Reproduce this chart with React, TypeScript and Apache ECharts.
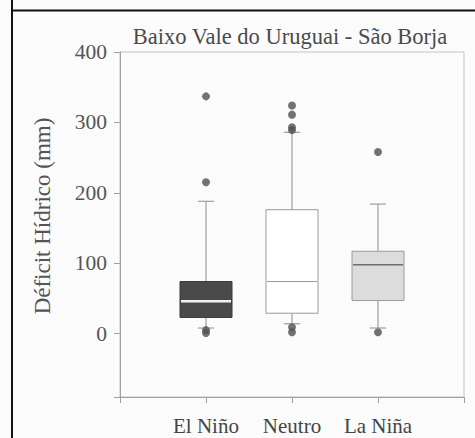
import React, { useEffect, useRef } from "react";
import * as echarts from "echarts";

const categories = ["El Niño", "Neutro", "La Niña"];
const whiskerLow = [8, 14, 8];
const q1 = [23, 29, 47];
const median = [46, 74, 98];
const q3 = [74, 176, 117];
const whiskerHigh = [188, 286, 184];
const outliersElNino = [337, 215, 5, 1];
const outliersNeutro = [324, 311, 293, 289, 9, 2];
const outliersLaNina = [258, 2];
const yTicks = [0, 100, 200, 300, 400];

const boxFill = ["#4a4a4a", "#ffffff", "#dcdcdc"];
const boxStroke = ["#3a3a3a", "#9a9a9a", "#9a9a9a"];
const medianColor = ["#f2f2f2", "#9a9a9a", "#6e6e6e"];
const medianWidth = [2.5, 1, 1.5];

const FONT = "Liberation Serif";

export default function App() {
  const ref = useRef<HTMLDivElement>(null);
  useEffect(() => {
    if (!ref.current) return;
    const chart = echarts.init(ref.current, null, { renderer: "svg" });
    const axisCats = ["", ...categories, ""];
    const boxData = categories.map((c, i) => [c, whiskerLow[i], q1[i], median[i], q3[i], whiskerHigh[i], i]);
    const outlierLists = [outliersElNino, outliersNeutro, outliersLaNina];
    const outlierData: any[] = [];
    outlierLists.forEach((list, i) => list.forEach((v) => outlierData.push([categories[i], v])));

    chart.setOption({
      animation: false,
      backgroundColor: "#fbfbfb",
      grid: { left: 120, right: 11, top: 52, bottom: 41 },
      xAxis: {
        type: "category",
        data: axisCats,
        boundaryGap: false,
        axisLine: { onZero: false, lineStyle: { color: "#a0a0a0", width: 1 } },
        axisTick: { length: 6, interval: 0, lineStyle: { color: "#a0a0a0" } },
        axisLabel: { interval: 0, fontFamily: FONT, fontSize: 21, color: "#444", margin: 18 },
        splitLine: { show: false },
      },
      yAxis: {
        type: "value",
        min: -90,
        max: 400,
        axisLine: { show: true, lineStyle: { color: "#a0a0a0", width: 1 } },
        axisTick: { show: true, length: 6, lineStyle: { color: "#a0a0a0" }, customValues: [-90, ...yTicks] },
        axisLabel: { customValues: yTicks, fontFamily: FONT, fontSize: 21.5, color: "#555", margin: 13 },
        splitLine: { show: false },
      },
      graphic: [
        { type: "line", shape: { x1: 12, y1: 0, x2: 12, y2: 438 }, style: { stroke: "#111", lineWidth: 2 } },
        { type: "line", shape: { x1: 12, y1: 10.5, x2: 475, y2: 10.5 }, style: { stroke: "#111", lineWidth: 2 } },
        { type: "rect", shape: { x: 120, y: 52, width: 344, height: 345 }, style: { fill: "none", stroke: "#c4c4c4", lineWidth: 1 }, z: -1 },
        {
          type: "text",
          x: 290,
          y: 36,
          style: { text: "Baixo Vale do Uruguai - São Borja", fontFamily: FONT, fontSize: 22.5, fill: "#4a4a4a", align: "center", verticalAlign: "middle" },
        },
        {
          type: "text",
          x: 42,
          y: 216,
          rotation: Math.PI / 2,
          style: { text: "Déficit Hídrico (mm)", fontFamily: FONT, fontSize: 23, fill: "#555", align: "center", verticalAlign: "middle" },
        },
      ],
      series: [
        {
          type: "custom",
          data: boxData,
          encode: { x: 0, y: [1, 2, 3, 4, 5] },
          renderItem: (params: any, api: any) => {
            const x = api.value(0);
            const idx = api.value(6);
            const pLow = api.coord([x, api.value(1)]);
            const pQ1 = api.coord([x, api.value(2)]);
            const pMed = api.coord([x, api.value(3)]);
            const pQ3 = api.coord([x, api.value(4)]);
            const pHigh = api.coord([x, api.value(5)]);
            const cx = pQ1[0];
            const bw = 52;
            const cap = 16;
            const lineStyle = { stroke: "#8c8c8c", lineWidth: 1 };
            return {
              type: "group",
              children: [
                { type: "line", shape: { x1: cx, y1: pQ3[1], x2: cx, y2: pHigh[1] }, style: lineStyle },
                { type: "line", shape: { x1: cx, y1: pQ1[1], x2: cx, y2: pLow[1] }, style: lineStyle },
                { type: "line", shape: { x1: cx - cap / 2, y1: pHigh[1], x2: cx + cap / 2, y2: pHigh[1] }, style: lineStyle },
                { type: "line", shape: { x1: cx - cap / 2, y1: pLow[1], x2: cx + cap / 2, y2: pLow[1] }, style: lineStyle },
                {
                  type: "rect",
                  shape: { x: cx - bw / 2, y: pQ3[1], width: bw, height: pQ1[1] - pQ3[1] },
                  style: { fill: boxFill[idx], stroke: boxStroke[idx], lineWidth: 1 },
                },
                {
                  type: "line",
                  shape: { x1: cx - bw / 2 + 1, y1: pMed[1], x2: cx + bw / 2 - 1, y2: pMed[1] },
                  style: { stroke: medianColor[idx], lineWidth: medianWidth[idx] },
                },
              ],
            };
          },
          z: 2,
        },
        {
          type: "scatter",
          data: outlierData,
          symbol: "circle",
          symbolSize: 8,
          itemStyle: { color: "#505050" },
          z: 3,
        },
      ],
    });
    return () => chart.dispose();
  }, []);
  return <div ref={ref} style={{ position: "fixed", left: 0, top: 0, width: 475, height: 438 }} />;
}
